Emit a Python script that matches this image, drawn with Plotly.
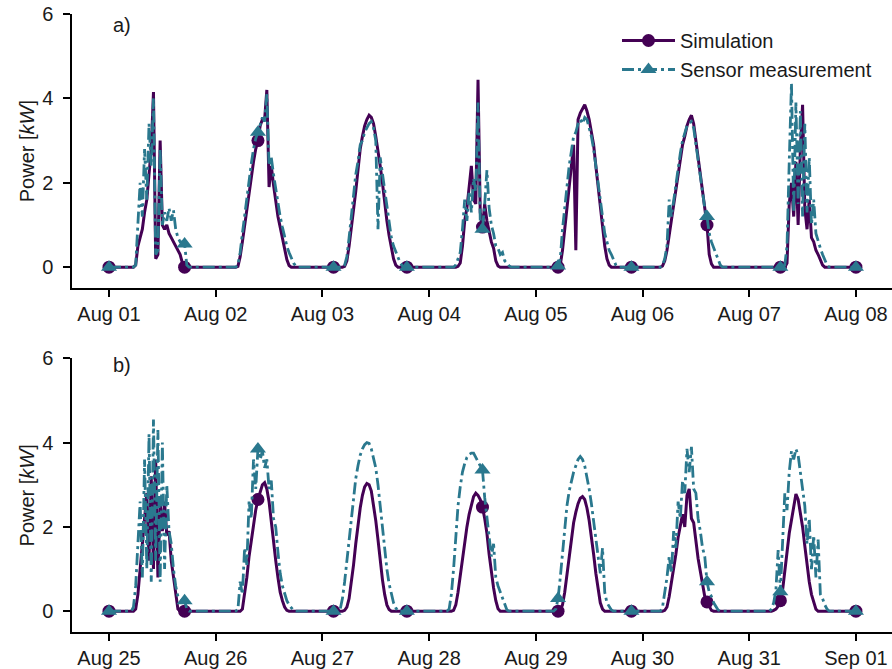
import pandas as pd
import plotly.graph_objects as go

# Half-hourly PV power in kW, one row per day (48 values), the final value is midnight.
start_a = "2021-08-01"
start_b = "2021-08-25"

sim_a = [
    # Aug 01
    0, 0, 0, 0, 0, 0, 0, 0, 0, 0, 0, 0,
    0.05, 0.5, 0.7, 0.9, 1.3, 1.6, 2.2, 2.8, 4.15, 0.2, 0.3, 3.0,
    1.0, 0.9, 1.0, 0.8, 0.7, 0.6, 0.5, 0.4, 0.3, 0.1, 0, 0,
    0, 0, 0, 0, 0, 0, 0, 0, 0, 0, 0, 0,
    # Aug 02
    0, 0, 0, 0, 0, 0, 0, 0, 0, 0, 0.02, 0.25,
    0.6, 1.0, 1.4, 1.8, 2.15, 2.5, 2.8, 3.0, 3.35, 3.5, 3.5, 4.2,
    1.9, 2.4, 1.95, 1.55, 1.2, 0.95, 0.7, 0.4, 0.18, 0.04, 0, 0,
    0, 0, 0, 0, 0, 0, 0, 0, 0, 0, 0, 0,
    # Aug 03
    0, 0, 0, 0, 0, 0, 0, 0, 0, 0, 0.02, 0.15,
    0.5, 0.9, 1.3, 1.8, 2.3, 2.8, 3.1, 3.35, 3.5, 3.6, 3.55, 3.4,
    3.1, 2.8, 2.4, 2.0, 1.5, 1.1, 0.75, 0.45, 0.2, 0.05, 0, 0,
    0, 0, 0, 0, 0, 0, 0, 0, 0, 0, 0, 0,
    # Aug 04
    0, 0, 0, 0, 0, 0, 0, 0, 0, 0, 0, 0,
    0, 0.02, 0.1, 0.5, 1.1, 1.4, 1.9, 2.4, 1.6, 1.5, 4.44, 1.3,
    0.95, 1.5, 1.1, 0.8, 0.6, 0.45, 0.15, 0.03, 0, 0, 0, 0,
    0, 0, 0, 0, 0, 0, 0, 0, 0, 0, 0, 0,
    # Aug 05
    0, 0, 0, 0, 0, 0, 0, 0, 0, 0, 0, 0.05,
    0.4, 0.9, 1.4, 1.9, 2.4, 2.9, 0.4, 3.5, 3.65, 3.75, 3.85, 3.7,
    3.5, 3.2, 2.9, 2.4, 1.9, 1.4, 0.9, 0.5, 0.2, 0.05, 0, 0,
    0, 0, 0, 0, 0, 0, 0, 0, 0, 0, 0, 0,
    # Aug 06
    0, 0, 0, 0, 0, 0, 0, 0, 0, 0.03, 0.15, 0.4,
    0.75, 1.1, 1.5, 1.9, 2.2, 2.6, 2.9, 3.1, 3.35, 3.5, 3.6, 3.4,
    3.0, 2.6, 2.1, 1.7, 1.3, 1.0, 0.3, 0.08, 0, 0, 0, 0,
    0, 0, 0, 0, 0, 0, 0, 0, 0, 0, 0, 0,
    # Aug 07
    0, 0, 0, 0, 0, 0, 0, 0, 0, 0, 0, 0,
    0, 0, 0, 0, 0, 0.1, 1.5, 2.0, 1.2, 2.5, 1.0, 2.8,
    3.85, 1.4, 0.9, 1.6, 0.7, 0.6, 0.4, 0.3, 0.15, 0.05, 0, 0,
    0, 0, 0, 0, 0, 0, 0, 0, 0, 0, 0, 0,
    # Aug 08 00:00
    0,
]

sen_a = [
    # Aug 01
    0, 0, 0, 0, 0, 0, 0, 0, 0, 0, 0, 0,
    0.05, 0.9, 2.0, 1.2, 2.8, 1.6, 3.4, 2.4, 4.0, 0.3, 0.4, 2.8,
    1.0, 1.3, 1.1, 1.4, 1.1, 1.35, 0.9, 0.7, 0.6, 0.6, 0.55, 0.05,
    0, 0, 0, 0, 0, 0, 0, 0, 0, 0, 0, 0,
    # Aug 02
    0, 0, 0, 0, 0, 0, 0, 0, 0, 0, 0.05, 0.35,
    0.8, 1.25, 1.65, 2.05, 2.45, 2.8, 3.05, 3.2, 3.4, 3.55, 3.45, 4.1,
    2.4, 2.6, 2.2, 1.85, 1.5, 1.2, 0.95, 0.7, 0.5, 0.35, 0.2, 0.1,
    0.03, 0, 0, 0, 0, 0, 0, 0, 0, 0, 0, 0,
    # Aug 03
    0, 0, 0, 0, 0, 0, 0, 0, 0, 0, 0.05, 0.25,
    0.7, 1.2, 1.6, 2.2, 2.5, 2.9, 3.0, 3.2, 3.3, 3.4, 3.45, 3.3,
    3.0, 0.9, 2.6, 2.2, 1.8, 1.4, 1.0, 0.7, 0.5, 0.35, 0.2, 0.1,
    0.03, 0, 0, 0, 0, 0, 0, 0, 0, 0, 0, 0,
    # Aug 04
    0, 0, 0, 0, 0, 0, 0, 0, 0, 0, 0, 0,
    0.05, 0.2, 0.35, 0.9, 1.6, 1.1, 1.8, 1.3, 2.1, 1.8, 3.9, 1.1,
    0.9, 1.5, 2.3, 1.4, 1.0, 0.8, 0.5, 0.45, 0.3, 0.35, 0.15, 0.1,
    0.03, 0, 0, 0, 0, 0, 0, 0, 0, 0, 0, 0,
    # Aug 05
    0, 0, 0, 0, 0, 0, 0, 0, 0, 0, 0.03, 0.2,
    0.9, 1.5, 1.9, 2.4, 2.8, 3.1, 3.2, 3.4, 3.5, 3.4, 3.55, 3.5,
    3.3, 3.1, 2.8, 2.4, 2.0, 1.5, 1.1, 0.8, 0.6, 0.4, 0.3, 0.15,
    0.05, 0, 0, 0, 0, 0, 0, 0, 0, 0, 0, 0,
    # Aug 06
    0, 0, 0, 0, 0, 0, 0, 0, 0, 0.05, 0.2, 0.5,
    1.6, 1.2, 1.6, 2.0, 2.4, 2.7, 3.0, 3.2, 3.35, 3.4, 3.45, 3.3,
    2.9, 2.5, 2.1, 1.7, 1.4, 1.2, 0.8, 0.6, 0.45, 0.3, 0.15, 0.05,
    0, 0, 0, 0, 0, 0, 0, 0, 0, 0, 0, 0,
    # Aug 07
    0, 0, 0, 0, 0, 0, 0, 0, 0, 0, 0, 0,
    0, 0, 0, 0, 0.05, 0.5, 2.5, 4.36, 1.3, 3.9, 1.5, 3.7,
    1.2, 3.4, 1.3, 2.6, 1.0, 1.6, 0.8, 0.6, 0.45, 0.3, 0.15, 0.05,
    0, 0, 0, 0, 0, 0, 0, 0, 0, 0, 0, 0,
    # Aug 08 00:00
    0,
]

sim_b = [
    # Aug 25
    0, 0, 0, 0, 0, 0, 0, 0, 0, 0, 0, 0,
    0.05, 0.4, 1.0, 1.6, 2.2, 2.8, 1.2, 3.2, 1.0, 3.6, 0.8, 2.6,
    1.9, 2.6, 1.8, 1.9, 1.2, 0.8, 0.35, 0.05, 0, 0, 0, 0,
    0, 0, 0, 0, 0, 0, 0, 0, 0, 0, 0, 0,
    # Aug 26
    0, 0, 0, 0, 0, 0, 0, 0, 0, 0, 0, 0,
    0.05, 0.4, 0.8, 1.3, 1.7, 2.1, 2.4, 2.65, 2.85, 3.0, 3.05, 2.9,
    2.6, 2.1, 1.7, 1.2, 0.8, 0.45, 0.25, 0.1, 0.02, 0, 0, 0,
    0, 0, 0, 0, 0, 0, 0, 0, 0, 0, 0, 0,
    # Aug 27
    0, 0, 0, 0, 0, 0, 0, 0, 0, 0, 0.02, 0.1,
    0.3, 0.65, 1.1, 1.6, 2.05, 2.45, 2.75, 2.95, 3.03, 3.0, 2.85, 2.55,
    2.15, 1.7, 1.2, 0.75, 0.4, 0.15, 0.04, 0, 0, 0, 0, 0,
    0, 0, 0, 0, 0, 0, 0, 0, 0, 0, 0, 0,
    # Aug 28
    0, 0, 0, 0, 0, 0, 0, 0, 0, 0, 0, 0.02,
    0.15, 0.45, 0.85, 1.25, 1.65, 2.0, 2.3, 2.55, 2.72, 2.8, 2.75, 2.65,
    2.47, 2.2, 1.85, 1.35, 0.9, 0.55, 0.25, 0.06, 0, 0, 0, 0,
    0, 0, 0, 0, 0, 0, 0, 0, 0, 0, 0, 0,
    # Aug 29
    0, 0, 0, 0, 0, 0, 0, 0, 0, 0, 0, 0.02,
    0.15, 0.45, 0.9, 1.35, 1.75, 2.1, 2.35, 2.55, 2.68, 2.72, 2.65, 2.45,
    2.15, 1.8, 1.35, 0.9, 0.5, 0.2, 0.05, 0, 0, 0, 0, 0,
    0, 0, 0, 0, 0, 0, 0, 0, 0, 0, 0, 0,
    # Aug 30
    0, 0, 0, 0, 0, 0, 0, 0, 0, 0, 0.02, 0.1,
    0.35, 0.65, 1.0, 1.35, 1.75, 2.05, 2.3, 2.0, 2.75, 2.9, 2.2, 2.1,
    1.6, 1.25, 0.95, 0.6, 0.35, 0.22, 0.1, 0.02, 0, 0, 0, 0,
    0, 0, 0, 0, 0, 0, 0, 0, 0, 0, 0, 0,
    # Aug 31
    0, 0, 0, 0, 0, 0, 0, 0, 0, 0, 0, 0.02,
    0.05, 0.12, 0.25, 0.5, 0.9, 1.4, 1.85, 2.2, 2.55, 2.78, 2.65, 2.35,
    2.0, 1.55, 1.1, 0.7, 0.4, 0.2, 0.05, 0, 0, 0, 0, 0,
    0, 0, 0, 0, 0, 0, 0, 0, 0, 0, 0, 0,
    # Sep 01 00:00
    0,
]

sen_b = [
    # Aug 25
    0, 0, 0, 0, 0, 0, 0, 0, 0, 0, 0, 0.1,
    0.6, 1.6, 2.6, 0.8, 3.6, 1.0, 4.2, 0.7, 4.55, 1.2, 4.3, 0.7,
    4.0, 1.0, 3.0, 1.9, 1.6, 1.0, 0.6, 0.35, 0.3, 0.25, 0.25, 0.05,
    0, 0, 0, 0, 0, 0, 0, 0, 0, 0, 0, 0,
    # Aug 26
    0, 0, 0, 0, 0, 0, 0, 0, 0, 0, 0.05, 0.7,
    0.4, 1.5, 1.1, 2.6, 2.2, 3.6, 2.9, 3.85, 3.6, 3.8, 3.4, 3.6,
    2.9, 3.1, 2.2, 2.0, 1.4, 0.9, 0.6, 0.4, 0.25, 0.15, 0.08, 0.02,
    0, 0, 0, 0, 0, 0, 0, 0, 0, 0, 0, 0,
    # Aug 27
    0, 0, 0, 0, 0, 0, 0, 0, 0.05, 0.3, 0.7, 1.2,
    1.75, 2.3, 2.75, 3.15, 3.45, 3.7, 3.85, 3.95, 4.0, 3.98, 3.85, 3.65,
    3.4, 3.0, 2.5, 2.0, 1.45, 1.0, 0.65, 0.4, 0.2, 0.08, 0, 0,
    0, 0, 0, 0, 0, 0, 0, 0, 0, 0, 0, 0,
    # Aug 28
    0, 0, 0, 0, 0, 0, 0, 0, 0, 0.05, 0.4, 1.0,
    1.8, 2.5, 2.95, 3.3, 3.5, 3.65, 3.72, 3.75, 3.75, 3.65, 3.55, 3.45,
    3.35, 2.7, 2.2, 1.75, 1.3, 1.6, 0.8, 0.6, 0.45, 0.3, 0.15, 0.03,
    0, 0, 0, 0, 0, 0, 0, 0, 0, 0, 0, 0,
    # Aug 29
    0, 0, 0, 0, 0, 0, 0, 0, 0, 0.05, 0.3, 0.8,
    1.4, 2.0, 2.5, 2.85, 3.1, 3.3, 3.45, 3.6, 3.67, 3.6, 3.45, 3.2,
    2.9, 2.55, 2.15, 1.7, 1.25, 0.9, 1.5, 0.45, 0.2, 0.1, 0.03, 0,
    0, 0, 0, 0, 0, 0, 0, 0, 0, 0, 0, 0,
    # Aug 30
    0, 0, 0, 0, 0, 0, 0, 0, 0, 0.1, 0.4, 0.8,
    1.3, 0.9, 1.9, 1.5, 2.6, 2.2, 3.1, 2.8, 3.85, 3.3, 3.9, 2.9,
    2.8, 2.2, 1.9, 1.5, 1.3, 0.7, 0.45, 0.35, 0.2, 0.1, 0.03, 0,
    0, 0, 0, 0, 0, 0, 0, 0, 0, 0, 0, 0,
    # Aug 31
    0, 0, 0, 0, 0, 0, 0, 0, 0, 0, 0.05, 0.2,
    0.5, 1.45, 0.46, 1.6, 2.8, 2.4, 3.3, 3.8, 3.6, 3.85, 3.7, 3.3,
    2.9, 2.5, 1.6, 2.2, 1.0, 1.8, 0.8, 1.7, 0.4, 0.3, 0.15, 0.05,
    0, 0, 0, 0, 0, 0, 0, 0, 0, 0, 0, 0,
    # Sep 01 00:00
    0,
]

# sample positions that carry a marker (every ~0.7 day)
marker_idx = [0, 34, 67, 101, 134, 168, 202, 235, 269, 302, 336]

for arr in (sim_a, sen_a, sim_b, sen_b):
    assert len(arr) == 337, len(arr)

PURPLE = "#440154"
TEAL = "#2a788e"
TEXT = "#1a1a1a"
SEN_DASH = "12px,4px,3px,4px"

fig = go.Figure()


def add_panel(start, sim, sen, xa, ya, legend):
    t = pd.date_range(start, periods=len(sim), freq="30min")
    tm = [t[i] for i in marker_idx]
    fig.add_trace(go.Scatter(
        x=t, y=sim, mode="lines", line=dict(color=PURPLE, width=3),
        showlegend=False, xaxis=xa, yaxis=ya, hoverinfo="skip",
    ))
    fig.add_trace(go.Scatter(
        x=tm, y=[sim[i] for i in marker_idx], mode="markers",
        marker=dict(symbol="circle", size=13, color=PURPLE),
        showlegend=False, xaxis=xa, yaxis=ya,
    ))
    fig.add_trace(go.Scatter(
        x=t, y=sen, mode="lines", line=dict(color=TEAL, width=2.8, dash=SEN_DASH),
        showlegend=False, xaxis=xa, yaxis=ya, hoverinfo="skip",
    ))
    fig.add_trace(go.Scatter(
        x=tm, y=[sen[i] for i in marker_idx], mode="markers",
        marker=dict(symbol="triangle-up", size=14, color=TEAL),
        showlegend=False, xaxis=xa, yaxis=ya,
    ))
    if legend:
        fig.add_trace(go.Scatter(
            x=[None], y=[None], mode="lines+markers", name="Simulation",
            line=dict(color=PURPLE, width=3),
            marker=dict(symbol="circle", size=13, color=PURPLE),
            xaxis=xa, yaxis=ya,
        ))
        fig.add_trace(go.Scatter(
            x=[None], y=[None], mode="lines+markers", name="Sensor measurement",
            line=dict(color=TEAL, width=2.8, dash=SEN_DASH),
            marker=dict(symbol="triangle-up", size=14, color=TEAL),
            xaxis=xa, yaxis=ya,
        ))


add_panel(start_a, sim_a, sen_a, "x", "y", True)
add_panel(start_b, sim_b, sen_b, "x2", "y2", False)


def x_range(start):
    s = pd.Timestamp(start)
    return [str(s - pd.Timedelta(days=0.344)), str(s + pd.Timedelta(days=7.338))]


axis_style = dict(
    showline=True, linecolor="black", linewidth=2,
    ticks="outside", ticklen=7, tickwidth=1.5, tickcolor="black",
    showgrid=False, zeroline=False, automargin=False,
    tickfont=dict(size=20, color=TEXT),
)
x_dom = [72.3 / 892, 1.0]
ytitle = dict(text="Power [<i>kW</i>]", font=dict(size=20, color=TEXT), standoff=2)

fig.update_layout(
    width=892, height=669,
    margin=dict(l=0, r=0, t=0, b=0),
    paper_bgcolor="white", plot_bgcolor="white",
    font=dict(family="Liberation Sans, Arial, sans-serif", size=20, color=TEXT),
    xaxis=dict(axis_style, domain=x_dom, anchor="y", type="date",
               range=x_range(start_a), tick0=start_a, dtick=86400000,
               tickformat="%b %d"),
    yaxis=dict(axis_style, domain=[1 - 288.3 / 669, 1 - 14 / 669], anchor="x",
               range=[-0.5, 6], tickvals=[0, 2, 4, 6], ticklabelstandoff=6,
               title=ytitle),
    xaxis2=dict(axis_style, domain=x_dom, anchor="y2", type="date",
                range=x_range(start_b), tick0=start_b, dtick=86400000,
                tickformat="%b %d"),
    yaxis2=dict(axis_style, domain=[1 - 632.3 / 669, 1 - 358.3 / 669], anchor="x2",
                range=[-0.5, 6], tickvals=[0, 2, 4, 6], ticklabelstandoff=6,
                title=ytitle),
    legend=dict(x=617 / 892, y=1 - 21 / 669, xanchor="left", yanchor="top",
                itemwidth=53, bgcolor="rgba(0,0,0,0)",
                font=dict(size=20, color=TEXT)),
    annotations=[
        dict(text="a)", x=121.7 / 892, y=1 - 25 / 669, xref="paper", yref="paper",
             xanchor="center", yanchor="middle", showarrow=False,
             font=dict(size=20, color=TEXT)),
        dict(text="b)", x=121.7 / 892, y=1 - 365 / 669, xref="paper", yref="paper",
             xanchor="center", yanchor="middle", showarrow=False,
             font=dict(size=20, color=TEXT)),
    ],
)

# the page's default body margin would shift the figure off the 892x669 view
fig.write_html(
    "out.html",
    config={"displayModeBar": False},
    post_script="document.body.style.margin='0';document.body.style.overflow='hidden';",
)
